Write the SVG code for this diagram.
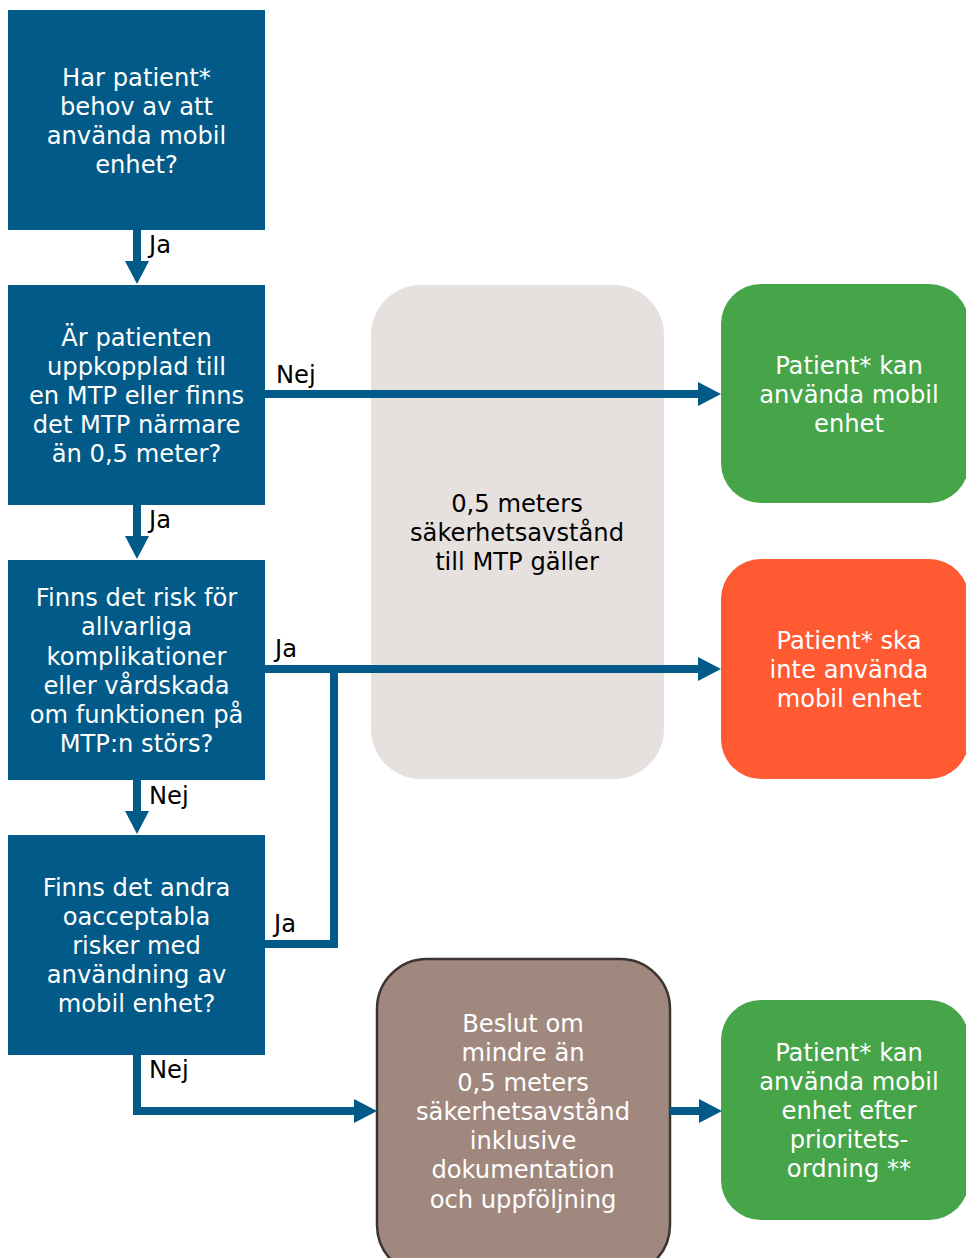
<svg xmlns="http://www.w3.org/2000/svg" width="966" height="1258" viewBox="0 0 966 1258">
<style>
text{font-family:"DejaVu Sans",Verdana,"Liberation Sans",sans-serif;font-size:24.2px}
.q rect{fill:#015A87}
.w{fill:#ffffff;text-anchor:middle}
.k{fill:#000000;text-anchor:middle}
.lbl{fill:#000000}
.c{fill:none;stroke:#015A87;stroke-width:8;stroke-linejoin:miter}
</style>
<defs>
<marker id="ah" markerUnits="userSpaceOnUse" markerWidth="24" markerHeight="24" refX="0" refY="12" orient="auto" viewBox="0 0 24 24">
<path d="M0,0 L23,12 L0,24 Z" fill="#015A87"/>
</marker>
</defs>

<g id="q1" class="q">
<rect x="8" y="10" width="257" height="220"/>
<text class="w"><tspan x="136.5" y="86">Har patient*</tspan><tspan x="136.5" y="115">behov av att</tspan><tspan x="136.5" y="144">använda mobil</tspan><tspan x="136.5" y="173">enhet?</tspan></text>
</g>
<g id="q2" class="q">
<rect x="8" y="285" width="257" height="220"/>
<text class="w"><tspan x="136.5" y="346">Är patienten</tspan><tspan x="136.5" y="375">uppkopplad till</tspan><tspan x="136.5" y="404">en MTP eller finns</tspan><tspan x="136.5" y="433">det MTP närmare</tspan><tspan x="136.5" y="462">än 0,5 meter?</tspan></text>
</g>
<g id="q3" class="q">
<rect x="8" y="560" width="257" height="220"/>
<text class="w"><tspan x="136.5" y="606">Finns det risk för</tspan><tspan x="136.5" y="635">allvarliga</tspan><tspan x="136.5" y="664.5">komplikationer</tspan><tspan x="136.5" y="693.5">eller vårdskada</tspan><tspan x="136.5" y="722.5">om funktionen på</tspan><tspan x="136.5" y="751.5">MTP:n störs?</tspan></text>
</g>
<g id="q4" class="q">
<rect x="8" y="835" width="257" height="220"/>
<text class="w"><tspan x="136.5" y="896">Finns det andra</tspan><tspan x="136.5" y="925">oacceptabla</tspan><tspan x="136.5" y="954">risker med</tspan><tspan x="136.5" y="983">användning av</tspan><tspan x="136.5" y="1012">mobil enhet?</tspan></text>
</g>
<g id="zone">
<rect x="371" y="285" width="293" height="494" rx="50" ry="50" fill="#E6E1DE"/>
<text class="k"><tspan x="517" y="512">0,5 meters</tspan><tspan x="517" y="541">säkerhetsavstånd</tspan><tspan x="517" y="570">till MTP gäller</tspan></text>
</g>
<g id="ok1">
<rect x="721" y="284" width="248" height="219" rx="40" ry="40" fill="#46A548"/>
<text class="w"><tspan x="849" y="374">Patient* kan</tspan><tspan x="849" y="403">använda mobil</tspan><tspan x="849" y="432">enhet</tspan></text>
</g>
<g id="no">
<rect x="721" y="559" width="248" height="220" rx="40" ry="40" fill="#FF5A32"/>
<text class="w"><tspan x="849" y="649">Patient* ska</tspan><tspan x="849" y="678">inte använda</tspan><tspan x="849" y="707">mobil enhet</tspan></text>
</g>
<g id="decision">
<rect x="377" y="959" width="293" height="316" rx="50" ry="50" fill="#A0887E" stroke="#3B3431" stroke-width="2.5"/>
<text class="w"><tspan x="523" y="1032">Beslut om</tspan><tspan x="523" y="1061">mindre än</tspan><tspan x="523" y="1090.5">0,5 meters</tspan><tspan x="523" y="1119.5">säkerhetsavstånd</tspan><tspan x="523" y="1149">inklusive</tspan><tspan x="523" y="1178">dokumentation</tspan><tspan x="523" y="1207.5">och uppföljning</tspan></text>
</g>
<g id="ok2">
<rect x="721" y="1000" width="248" height="220" rx="40" ry="40" fill="#46A548"/>
<text class="w"><tspan x="849" y="1061">Patient* kan</tspan><tspan x="849" y="1090">använda mobil</tspan><tspan x="849" y="1119">enhet efter</tspan><tspan x="849" y="1148">prioritets-</tspan><tspan x="849" y="1177">ordning **</tspan></text>
</g>

<g id="connectors">
<path class="c" d="M137,230 V261" marker-end="url(#ah)"/>
<path class="c" d="M137,505 V536" marker-end="url(#ah)"/>
<path class="c" d="M137,780 V811" marker-end="url(#ah)"/>
<path class="c" d="M265,394 H698" stroke-width="7" marker-end="url(#ah)"/>
<path class="c" d="M265,669 H698" marker-end="url(#ah)"/>
<path class="c" d="M265,944 H334 V665"/>
<path class="c" d="M137,1055 V1111 H354" marker-end="url(#ah)"/>
<path class="c" d="M670,1111 H699" marker-end="url(#ah)"/>
<text class="lbl" x="149" y="253">Ja</text>
<text class="lbl" x="276" y="383">Nej</text>
<text class="lbl" x="149" y="528">Ja</text>
<text class="lbl" x="275" y="657">Ja</text>
<text class="lbl" x="149" y="804">Nej</text>
<text class="lbl" x="274" y="932">Ja</text>
<text class="lbl" x="149" y="1078">Nej</text>
</g>
</svg>
